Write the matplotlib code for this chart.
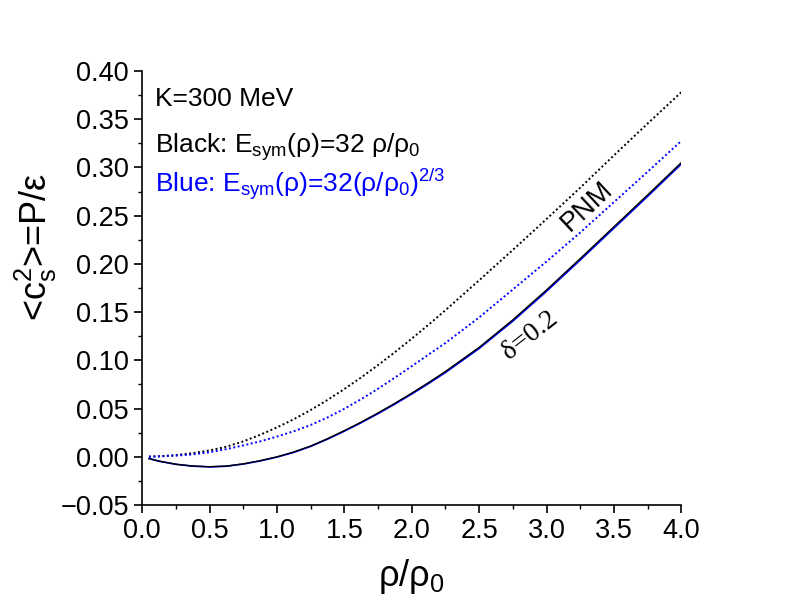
import matplotlib

matplotlib.use("Agg")

import matplotlib.pyplot as plt
from matplotlib.ticker import MultipleLocator, FuncFormatter


# density rho/rho0 and <c_s^2> = P/eps
rho = [0.05, 0.125, 0.25, 0.375, 0.5, 0.625, 0.75, 0.875, 1.0,
       1.125, 1.25, 1.375, 1.5, 1.625, 1.75, 1.875, 2.0, 2.125, 2.25,
       2.5, 2.75, 3.0, 3.25, 3.5, 3.75, 4.0]

pnm_black = [0.0002, 0.0006, 0.0018, 0.0038, 0.0066, 0.0105, 0.0160, 0.0228, 0.0305,
             0.0390, 0.0485, 0.0590, 0.0703, 0.0823, 0.0951, 0.1085, 0.1225, 0.1370, 0.1520,
             0.1830, 0.2145, 0.2465, 0.2790, 0.3125, 0.3455, 0.3780]
pnm_blue = [0.0001, 0.0004, 0.0012, 0.0025, 0.0047, 0.0080, 0.0118, 0.0160, 0.0210,
            0.0265, 0.0330, 0.0408, 0.0498, 0.0598, 0.0706, 0.0821, 0.0940, 0.1060, 0.1180,
            0.1445, 0.1735, 0.2025, 0.2325, 0.2640, 0.2955, 0.3275]
d02_black = [-0.0018, -0.0045, -0.0077, -0.0096, -0.0103, -0.0096, -0.0073, -0.0040, 0.0000,
             0.0050, 0.0112, 0.0188, 0.0272, 0.0360, 0.0455, 0.0555, 0.0660, 0.0770, 0.0885,
             0.1135, 0.1420, 0.1730, 0.2055, 0.2385, 0.2715, 0.3050]
d02_blue = [-0.0019, -0.0046, -0.0078, -0.0097, -0.0105, -0.0098, -0.0075, -0.0043, -0.0003,
            0.0046, 0.0108, 0.0183, 0.0266, 0.0354, 0.0448, 0.0547, 0.0651, 0.0760, 0.0874,
            0.1123, 0.1407, 0.1716, 0.2040, 0.2370, 0.2700, 0.3035]

BLUE = "#0000ff"

plt.rcParams["font.family"] = ["Liberation Sans", "DejaVu Sans"]
plt.rcParams["mathtext.fontset"] = "custom"
plt.rcParams["mathtext.rm"] = "Liberation Sans"
plt.rcParams["mathtext.it"] = "Liberation Sans:italic"
plt.rcParams["mathtext.bf"] = "Liberation Sans:bold"

fig = plt.figure(figsize=(7.93, 6.07), dpi=100)
ax = fig.add_axes([0.1794, 0.168, 0.6797, 0.715])

dots = (0, (1, 1.3))
ax.plot(rho, pnm_black, color="black", lw=1.4, linestyle=dots)
ax.plot(rho, pnm_blue, color=BLUE, lw=1.4, linestyle=dots)
ax.plot(rho, d02_blue, color=BLUE, lw=1.2)
ax.plot(rho, d02_black, color="black", lw=1.0)

ax.set_xlim(0, 4.0)
ax.set_ylim(-0.05, 0.40)
ax.xaxis.set_major_locator(MultipleLocator(0.5))
ax.xaxis.set_minor_locator(MultipleLocator(0.25))
ax.yaxis.set_major_locator(MultipleLocator(0.05))
ax.yaxis.set_minor_locator(MultipleLocator(0.025))
ax.xaxis.set_major_formatter(FuncFormatter(lambda v, pos: f"{v:.1f}"))
ax.yaxis.set_major_formatter(FuncFormatter(lambda v, pos: f"{v:.2f}".replace("-", "\u2212")))

for side in ["top", "right"]:
    ax.spines[side].set_visible(False)
for side in ["left", "bottom"]:
    ax.spines[side].set_linewidth(1.2)
ax.tick_params(which="major", direction="out", length=6, width=1.2, labelsize=19.5)
ax.tick_params(which="minor", direction="out", length=3, width=1.0)

ax.set_xlabel(r"ρ/ρ$_0$", fontsize=26, labelpad=9)
ax.set_ylabel(r"<c$_{\rm s}^{2}$>=P/ε", fontsize=26)
ax.yaxis.set_label_coords(-0.155, 0.594)

ax.text(0.024, 0.919, "K=300 MeV", transform=ax.transAxes, fontsize=19, va="baseline")
ax.text(0.024, 0.811, r"Black: E$_{\rm sym}$(ρ)=32 ρ/ρ$_0$", transform=ax.transAxes,
        fontsize=19, va="baseline")
ax.text(0.024, 0.721, r"Blue: E$_{\rm sym}$(ρ)=32(ρ/ρ$_0$)$^{2/3}$", transform=ax.transAxes,
        fontsize=19, va="baseline", color=BLUE)

ax.text(3.30, 0.2595, "PNM", fontsize=19.5, rotation=43, ha="center", va="center",
        rotation_mode="anchor")
ax.text(2.878, 0.126, "δ=0.2", fontsize=20, rotation=38, ha="center", va="center",
        rotation_mode="anchor", family="Liberation Serif")

fig.savefig("out.png", dpi=100)
